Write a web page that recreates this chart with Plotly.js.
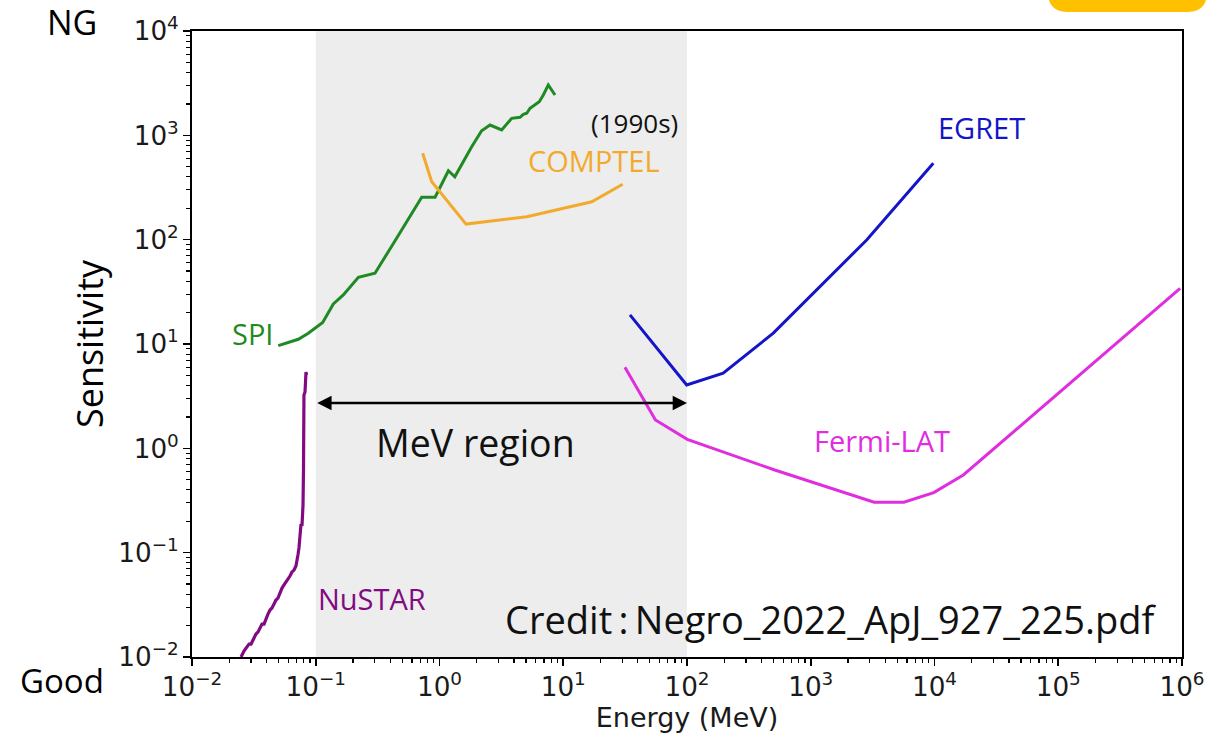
<!DOCTYPE html>
<html>
<head>
<meta charset="utf-8">
<script src="https://cdn.plot.ly/plotly-3.0.1.min.js"></script>
<style>
  html, body { margin: 0; padding: 0; background: #ffffff; }
  #chart { width: 1206px; height: 733px; }
</style>
</head>
<body>
<div id="chart"></div>
<script>
// Point-source sensitivity curves of gamma-ray instruments (energy in MeV)
const spiEnergy = [0.0498, 0.0723, 0.0871, 0.1138, 0.1387, 0.167, 0.221, 0.301, 0.424, 0.718, 0.921, 1.18, 1.33, 1.82, 2.19, 2.56, 3.18, 3.83, 4.47, 4.76, 5.07, 5.39, 6.40, 6.90, 7.57, 8.58];
const spiSens   = [9.64, 11.1, 12.7, 16.1, 24.2, 29.5, 43.6, 47.6, 92, 255, 255, 458, 401, 778, 1107, 1256, 1125, 1456, 1489, 1591, 1626, 1816, 2100, 2436, 3036, 2436];

const comptelEnergy = [0.731, 0.865, 1.64, 5.07, 17.0, 30.2];
const comptelSens   = [673, 359, 141, 166, 231, 340];

const egretEnergy = [34.6, 99.4, 196, 498, 2830, 9780];
const egretSens   = [19.0, 4.05, 5.24, 12.7, 99.3, 540];

const fermiEnergy = [31.5, 55.6, 100.5, 512, 3250, 5660, 9860, 17100, 966000];
const fermiSens   = [5.98, 1.87, 1.22, 0.62, 0.304, 0.304, 0.376, 0.555, 34.2];

const nustarEnergy = [0.0249, 0.0263, 0.0278, 0.0289, 0.0300, 0.0311, 0.0329, 0.0342, 0.0355, 0.0368, 0.0382,
                      0.0396, 0.0411, 0.0427, 0.0443, 0.0460, 0.0477, 0.0495, 0.0514, 0.0534, 0.0554, 0.0575,
                      0.0597, 0.0619, 0.0643, 0.0667, 0.0692, 0.0705, 0.0718, 0.0732, 0.0739, 0.0746, 0.0760,
                      0.0774, 0.0781, 0.0789, 0.0796, 0.0803, 0.0803, 0.0819, 0.0826, 0.0834, 0.0842];
const nustarSens   = [0.0100, 0.0114, 0.0125, 0.0133, 0.0133, 0.0146, 0.0166, 0.0174, 0.0190, 0.0207, 0.0207,
                      0.0237, 0.0258, 0.0282, 0.0295, 0.0322, 0.0352, 0.0367, 0.0420, 0.0458, 0.0490, 0.0524,
                      0.0547, 0.0597, 0.0653, 0.0682, 0.0745, 0.0813, 0.0950, 0.111, 0.132, 0.165, 0.188,
                      0.180, 0.206, 0.286, 0.619, 1.50, 3.24, 3.47, 4.52, 5.39, 5.05];

// MeV band limits
const mevBand = [0.1, 100];

// Decade labels: Plotly prints 10^0 and 10^1 as "1" and "10", so alias them to power form
const decadeAlias = { '1': '10<sup>0</sup>', '10': '10<sup>1</sup>' };

const colors = {
  spi: '#1f8a24',
  comptel: '#f3aa2c',
  egret: '#1414c8',
  fermi: '#df2ddf',
  nustar: '#820a82'
};

function curve(x, y, color, width) {
  return { type: 'scatter', mode: 'lines', x: x, y: y, hoverinfo: 'skip',
           line: { color: color, width: width }, showlegend: false };
}

const traces = [
  curve(spiEnergy, spiSens, colors.spi, 3),
  curve(comptelEnergy, comptelSens, colors.comptel, 3),
  curve(egretEnergy, egretSens, colors.egret, 3),
  curve(fermiEnergy, fermiSens, colors.fermi, 3),
  curve(nustarEnergy, nustarSens, colors.nustar, 3.2)
];

const lg = Math.log10;
const labelFont = 'Open Sans, Noto Sans, sans-serif';
function label(text, x, y, color, size) {
  return { text: text, x: lg(x), y: lg(y), xref: 'x', yref: 'y', showarrow: false,
           xanchor: 'center', yanchor: 'middle',
           font: { family: labelFont, size: size, color: color } };
}

const annotations = [
  label('SPI', 0.0311, 12.7, colors.spi, 29),
  label('(1990s)', 37.3, 1312, '#111111', 26),
  label('COMPTEL', 17.7, 568, colors.comptel, 29),
  label('EGRET', 23800, 1202, colors.egret, 29),
  label('Fermi-LAT', 3770, 1.20, colors.fermi, 29),
  label('NuSTAR', 0.285, 0.036, colors.nustar, 29),
  label('MeV region', 1.94, 1.15, '#111111', 37.5),
  label('Credit\u2009:\u2009Negro_2022_ApJ_927_225.pdf', 1460, 0.0231, '#111111', 38),
  // double-headed arrow spanning the MeV band
  { x: lg(mevBand[1]), y: lg(2.72), ax: lg(mevBand[0]), ay: lg(2.72),
    xref: 'x', yref: 'y', axref: 'x', ayref: 'y', text: '', showarrow: true,
    arrowhead: 2, startarrowhead: 2, arrowside: 'end+start', arrowsize: 1.1, startarrowsize: 1.1,
    arrowwidth: 2.6, arrowcolor: '#000000', standoff: 0, startstandoff: 0 },
  { text: 'NG', xref: 'paper', yref: 'paper', x: -0.1212, y: 1.0144, showarrow: false,
    xanchor: 'center', yanchor: 'middle', font: { family: labelFont, size: 34, color: '#000000' } },
  { text: 'Good', xref: 'paper', yref: 'paper', x: -0.1313, y: -0.0383, showarrow: false,
    xanchor: 'center', yanchor: 'middle', font: { family: labelFont, size: 33, color: '#000000' } }
];

const shapes = [
  { type: 'rect', xref: 'x', yref: 'paper', x0: mevBand[0], x1: mevBand[1], y0: 0, y1: 1,
    fillcolor: '#ecedec', line: { width: 0 }, layer: 'below' },
  // yellow tab at the upper right corner
  { type: 'path', xref: 'paper', yref: 'paper', layer: 'above',
    path: 'M 0.8646,1.0815 L 0.8646,1.0623 Q 0.8646,1.0304 0.8848,1.0304 L 1.0051,1.0304 Q 1.0253,1.0304 1.0253,1.0623 L 1.0253,1.0815 Z',
    fillcolor: '#ffc000', line: { width: 0 } }
];

const tickFont = { family: 'DejaVu Sans, sans-serif', size: 21, color: '#1a1a1a' };

const axisCommon = {
  type: 'log', showgrid: false, zeroline: false,
  showline: true, linecolor: '#000000', linewidth: 2, mirror: true,
  ticks: 'outside', ticklen: 7, tickwidth: 1.6, tickcolor: '#000000',
  tickmode: 'linear', tick0: 0, dtick: 1, exponentformat: 'power',
  labelalias: decadeAlias, tickfont: tickFont, ticklabeloverflow: 'allow',
  minor: { ticks: 'outside', ticklen: 4, tickwidth: 1.2, tickcolor: '#000000', dtick: 'D1', showgrid: false }
};

const layout = {
  width: 1206, height: 733,
  margin: { l: 192, r: 24, t: 31, b: 76 },
  paper_bgcolor: '#ffffff', plot_bgcolor: '#ffffff',
  showlegend: false,
  xaxis: Object.assign({}, axisCommon, {
    range: [-2, 6],
    title: { text: 'Energy (MeV)', standoff: 7, font: { family: 'DejaVu Sans, sans-serif', size: 27, color: '#1a1a1a' } }
  }),
  yaxis: Object.assign({}, axisCommon, {
    range: [-2, 4],
    title: { text: 'Sensitivity', standoff: 4, font: { family: labelFont, size: 36, color: '#000000' } }
  }),
  annotations: annotations,
  shapes: shapes
};

Plotly.newPlot('chart', traces, layout, { staticPlot: true, displayModeBar: false });
</script>
</body>
</html>
